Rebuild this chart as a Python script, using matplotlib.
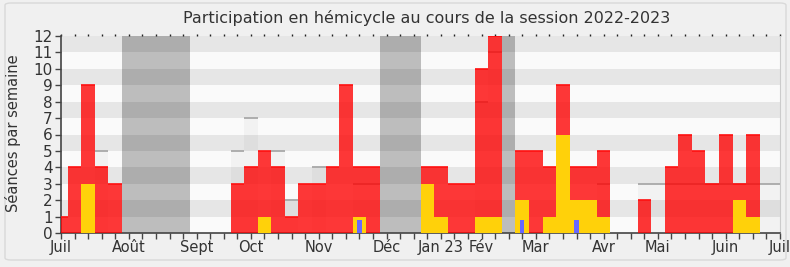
import matplotlib.pyplot as plt
from matplotlib.patches import FancyBboxPatch
import numpy as np

# weekly data, session 2022-2023 (week 0 = first week of July)
weeks = np.arange(54)
presences = [1, 4, 9, 4, 3, 0, 0, 0, 0, 0, 0, 0, 0, 3, 4, 5, 4, 1, 3, 3, 4, 9, 4, 4, 0, 0, 0,
             4, 4, 3, 3, 10, 12, 0, 5, 5, 4, 9, 4, 4, 5, 0, 0, 2, 0, 4, 6, 5, 3, 6, 3, 6, 0, 0]
interventions = [0, 0, 3, 0, 0, 0, 0, 0, 0, 0, 0, 0, 0, 0, 0, 1, 0, 0, 0, 0, 0, 0, 1, 0, 0, 0, 0,
                 3, 1, 0, 0, 1, 1, 0, 2, 0, 1, 6, 2, 2, 1, 0, 0, 0, 0, 0, 0, 0, 0, 0, 2, 1, 0, 0]
questions = [0, 0, 0, 0, 0, 0, 0, 0, 0, 0, 0, 0, 0, 0, 0, 0, 0, 0, 0, 0, 0, 0, 1, 0, 0, 0, 0,
             0, 0, 0, 0, 0, 0, 0, 1, 0, 0, 0, 1, 0, 0, 0, 0, 0, 0, 0, 0, 0, 0, 0, 0, 0, 0, 0]
seances = [0, 0, 0, 5, 0, 0, 0, 0, 0, 0, 0, 0, 0, 5, 7, 0, 5, 2, 0, 4, 0, 0, 3, 3, 0, 0, 0,
           0, 0, 0, 0, 8, 11, 0, 0, 0, 0, 0, 0, 0, 3, 0, 0, 3, 3, 3, 3, 3, 3, 3, 3, 3, 3, 3]
vacances = [5, 6, 7, 8, 9, 24, 25, 26, 33]

month_pos = [0, 5, 10, 14, 19, 24, 28, 31, 35, 40, 44, 49, 53]
month_labels = ['Juil', 'Août', 'Sept', 'Oct', 'Nov', 'Déc', 'Jan 23', 'Fév', 'Mar',
                'Avr', 'Mai', 'Juin', 'Juil']

ymax = 12
txt = '#333333'

fig = plt.figure(figsize=(7.9, 2.67), dpi=100, facecolor='#f0f0f0')
fig.patches.append(FancyBboxPatch((5 / 790, 7 / 267), 781 / 790, 257 / 267,
                                  boxstyle='round,pad=0,rounding_size=0.008',
                                  transform=fig.transFigure, facecolor='none',
                                  edgecolor='#d9d9d9', lw=1))
ax = fig.add_axes([61 / 790, 34 / 267, 719 / 790, 197 / 267])
ax.set_facecolor('#fafafa')

# background stripes
for b in range(1, ymax, 2):
    ax.axhspan(b, b + 1, color='#e6e6e6', lw=0, zorder=0)

# holidays
for b in range(ymax):
    c = '#adadad' if b % 2 else '#bdbdbd'
    ax.bar(vacances, 1, bottom=b, width=1, color=c, lw=0, zorder=1)

pres = np.array(presences)
sea = np.array(seances)
inter = np.array(interventions)
ques = np.array(questions)

# séances held
ax.bar(weeks, sea, width=1, color='black', alpha=0.03, lw=0, zorder=2)
m = sea > 0
ax.hlines(sea[m], weeks[m] - 0.5, weeks[m] + 0.5, color='#a8a8a8', lw=1.3, zorder=2)

# presences
ax.bar(weeks, pres, width=1, color='red', alpha=0.78, lw=0, zorder=3)
m = pres > 0
ax.hlines(pres[m], weeks[m] - 0.5, weeks[m] + 0.5, color='#ff1010', lw=1.2, zorder=3)

# interventions / questions
ax.bar(weeks, inter, width=1, color='#ffd10a', lw=0, zorder=4)
ax.bar(weeks, ques * 0.82, width=0.32, color='#6868ff', lw=0, zorder=5)

ax.set_xlim(0, 53)
ax.set_ylim(0, ymax)
ax.set_yticks(range(ymax + 1))
ax.set_xticks(month_pos)
ax.set_xticklabels(month_labels)
ax.set_xticks(weeks, minor=True)

ax.spines['top'].set_visible(False)
ax.spines['right'].set_color('#cccccc')
for s in ['left', 'bottom']:
    ax.spines[s].set_color('#444444')
    ax.spines[s].set_linewidth(1.2)

ax.tick_params(axis='y', direction='out', length=4, width=1, color='#444444',
               labelsize=11, labelcolor=txt, pad=2)
ax.tick_params(axis='x', which='both', direction='out', length=4, width=1,
               color='#444444', labelsize=10.5, labelcolor=txt, pad=1,
               top=True, labeltop=False)
# top ticks as small dots
for tick in ax.xaxis.get_major_ticks() + ax.xaxis.get_minor_ticks():
    tick.tick2line.set_markersize(1.5)
    tick.tick2line.set_markeredgecolor('#222222')

fig.text(427 / 790, 1 - 18 / 267, 'Participation en hémicycle au cours de la session 2022-2023',
         ha='center', va='center', fontsize=11.5, color=txt)
fig.text(13 / 790, 1 - 133 / 267, 'Séances par semaine', rotation=90,
         ha='center', va='center', fontsize=10.5, color=txt)

fig.savefig('out.png', dpi=100, facecolor=fig.get_facecolor())
